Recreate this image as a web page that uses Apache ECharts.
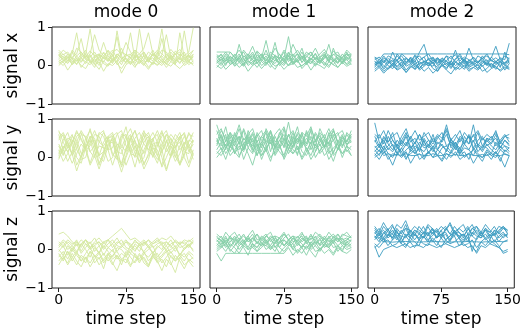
<!DOCTYPE html>
<html>
<head>
<meta charset="utf-8">
<script src="https://cdn.jsdelivr.net/npm/echarts@6/dist/echarts.min.js"></script>
<style>
  html, body { margin: 0; padding: 0; background: #fff; }
  #chart { width: 524px; height: 329px; }
</style>
</head>
<body>
<div id="chart"></div>
<script>
// time steps
const steps = [0,5,10,15,20,25,30,35,40,45,50,55,60,65,70,75,80,85,90,95,100,105,110,115,120,125,130,135,140,145,150]
const modes = ['mode 0', 'mode 1', 'mode 2']
const signals = ['signal x', 'signal y', 'signal z']
const xTicks = [0, 75, 150]
const modeColors = ['#d4e8a0', '#86cfa8', '#3d9cc1']

// signal x
const sigX0 = [
  [0.18,0.25,0.12,0.30,0.85,0.20,0.05,0.22,0.35,0.15,0.10,0.28,0.40,0.18,0.02,0.25,0.30,0.12,0.95,0.22,0.08,0.30,0.18,0.25,0.10,0.35,0.20,0.05,0.28,0.15,0.22],
  [0.05,0.12,0.30,0.18,0.02,0.25,0.40,0.10,-0.05,0.20,0.32,0.15,0.08,0.90,0.25,0.05,0.18,0.35,0.10,0.00,0.22,0.40,0.15,0.05,0.30,0.18,0.02,0.85,0.20,0.10,0.30],
  [0.35,0.20,0.08,0.40,0.25,0.10,0.30,0.95,0.18,0.05,0.25,0.38,0.12,0.20,0.45,0.15,0.02,0.28,0.20,0.35,0.12,0.05,0.30,0.95,0.20,0.10,0.38,0.25,0.08,0.20,0.40],
  [0.10,0.00,0.15,0.05,0.20,-0.05,0.10,0.25,0.05,-0.10,0.12,0.00,0.18,0.05,-0.08,0.10,0.22,0.00,0.08,0.15,-0.05,0.10,0.02,0.18,0.05,-0.02,0.12,0.20,0.00,0.08,0.05],
  [0.25,0.40,0.30,0.15,0.45,0.35,0.20,0.30,0.80,0.40,0.25,0.15,0.35,0.42,0.28,0.60,0.35,0.20,0.30,0.45,0.85,0.30,0.22,0.40,0.35,0.15,0.30,0.42,0.25,0.35,0.98],
  [0.15,0.08,0.22,0.12,0.05,0.18,0.10,0.02,0.20,0.28,0.05,-0.02,0.15,0.25,0.10,0.18,0.05,0.12,0.22,0.08,0.15,0.02,0.20,0.12,0.05,0.25,0.15,0.08,0.18,0.02,0.12],
  [0.30,0.15,0.05,0.22,0.30,0.70,0.18,0.10,0.25,0.12,0.35,0.20,0.05,0.30,0.18,0.25,0.85,0.15,0.05,0.28,0.20,0.12,0.35,0.18,0.02,0.20,0.30,0.15,0.90,0.20,0.28],
  [0.00,0.10,-0.12,0.05,0.15,0.00,-0.08,0.12,0.02,0.10,-0.15,0.05,0.00,0.12,-0.20,0.02,0.10,-0.05,0.15,0.05,-0.10,0.08,0.00,0.12,-0.05,0.10,0.02,-0.08,0.05,0.12,0.00],
  [0.22,0.30,0.18,0.08,0.25,0.35,0.15,0.28,0.10,0.22,0.60,0.25,0.12,0.30,0.20,0.08,0.28,0.40,0.15,0.25,0.10,0.32,0.20,0.70,0.15,0.28,0.12,0.22,0.35,0.10,0.25],
  [0.40,0.28,0.35,0.20,0.12,0.30,0.22,0.38,0.25,0.30,0.18,0.40,0.25,0.10,0.35,0.28,0.20,0.40,0.30,0.15,0.35,0.25,0.40,0.30,0.20,0.42,0.28,0.35,0.15,0.30,0.38],
  [0.10,0.20,0.25,0.02,0.12,0.20,0.30,0.08,0.15,0.00,0.22,0.10,0.28,0.02,0.12,0.20,0.08,0.25,0.15,0.02,0.18,0.28,0.08,0.00,0.15,0.22,0.05,0.18,0.10,0.28,0.08],
  [0.28,0.12,0.20,0.35,0.18,0.08,0.25,0.15,0.05,0.30,0.20,0.12,0.25,0.75,0.15,0.30,0.20,0.05,0.25,0.35,0.15,0.20,0.08,0.28,0.80,0.20,0.10,0.30,0.20,0.25,0.15]
]
const sigX1 = [
  [0.15,0.05,0.20,0.10,0.30,0.12,0.02,0.18,0.25,0.08,0.15,0.05,0.22,0.12,0.30,0.10,0.00,0.18,0.08,0.25,0.15,0.05,0.20,0.10,0.28,0.12,0.02,0.18,0.10,0.22,0.15],
  [0.05,0.18,0.00,0.25,0.10,0.55,0.15,0.05,0.20,0.35,0.10,0.00,0.18,0.60,0.12,0.05,0.25,0.10,0.20,0.45,0.08,0.15,0.30,0.05,0.18,0.55,0.10,0.22,0.05,0.35,0.12],
  [0.25,0.10,0.30,0.15,0.05,0.22,0.35,0.12,0.00,0.28,0.15,0.40,0.10,0.25,0.05,0.20,0.75,0.15,0.30,0.08,0.22,0.35,0.15,0.05,0.28,0.12,0.30,0.18,0.08,0.25,0.30],
  [-0.05,0.08,-0.10,0.02,0.10,-0.05,0.05,-0.15,0.00,0.08,-0.08,0.05,0.12,-0.02,0.05,-0.10,0.02,0.10,-0.05,0.00,0.08,-0.12,0.05,0.00,-0.08,0.10,0.02,-0.05,0.08,-0.02,0.05],
  [0.20,0.30,0.12,0.35,0.22,0.15,0.40,0.25,0.50,0.20,0.30,0.12,0.35,0.25,0.18,0.40,0.22,0.55,0.30,0.15,0.35,0.25,0.45,0.20,0.30,0.15,0.38,0.25,0.20,0.40,0.28],
  [0.10,0.00,0.15,0.05,0.20,0.08,-0.02,0.12,0.05,0.18,0.00,0.10,-0.05,0.15,0.08,0.00,0.20,0.05,0.12,-0.02,0.10,0.18,0.02,0.12,0.05,-0.05,0.15,0.08,0.20,0.02,0.10],
  [0.35,0.35,0.35,0.35,0.20,0.10,0.25,0.15,0.30,0.05,0.22,0.12,0.28,0.18,0.08,0.25,0.15,0.30,0.10,0.20,0.05,0.28,0.15,0.22,0.35,0.12,0.20,0.08,0.30,0.15,0.25],
  [0.12,0.22,0.05,0.15,0.00,0.25,0.10,0.30,0.15,0.05,0.20,0.65,0.15,0.05,0.22,0.10,0.28,0.02,0.15,0.35,0.10,0.05,0.20,0.12,0.25,0.08,0.45,0.15,0.05,0.20,0.10],
  [0.18,0.28,0.10,0.22,0.15,0.30,0.05,0.20,0.35,0.12,0.25,0.18,0.05,0.28,0.15,0.35,0.10,0.22,0.30,0.08,0.25,0.15,0.32,0.10,0.20,0.28,0.15,0.05,0.22,0.30,0.18],
  [0.08,0.15,0.25,0.02,0.12,0.20,0.00,0.25,0.10,0.15,0.30,0.05,0.18,0.22,0.00,0.12,0.35,0.08,0.15,0.25,0.02,0.20,0.08,0.15,0.00,0.22,0.10,0.28,0.12,0.05,0.15],
  [0.28,0.20,0.35,0.18,0.25,0.40,0.22,0.30,0.15,0.38,0.25,0.30,0.20,0.45,0.28,0.15,0.32,0.25,0.40,0.20,0.28,0.35,0.18,0.30,0.42,0.22,0.28,0.35,0.15,0.30,0.25],
  [0.00,-0.08,0.05,0.15,-0.02,0.08,0.20,0.00,0.10,-0.05,0.12,0.25,0.02,-0.10,0.08,0.18,0.00,0.05,0.15,-0.08,0.05,0.12,-0.02,0.20,0.08,0.00,0.12,-0.05,0.10,0.15,0.02]
]
const sigX2 = [
  [0.00,0.10,-0.10,0.05,0.15,-0.05,0.08,-0.12,0.02,0.12,-0.08,0.05,0.00,0.10,-0.15,0.05,0.12,-0.05,0.08,0.00,-0.10,0.10,0.02,-0.08,0.05,0.15,-0.05,0.02,0.10,-0.12,0.05],
  [0.20,0.05,0.25,0.10,0.00,0.30,0.15,0.05,0.22,0.10,0.35,0.55,0.15,0.05,0.20,0.10,0.25,0.00,0.15,0.30,0.10,0.45,0.15,0.05,0.25,0.10,0.20,0.50,0.15,0.05,0.20],
  [-0.15,-0.05,-0.20,-0.08,0.00,-0.12,-0.05,-0.18,-0.02,-0.10,0.00,-0.15,-0.05,-0.20,-0.08,0.00,-0.12,-0.22,-0.05,-0.10,0.02,-0.15,-0.05,-0.12,0.00,-0.18,-0.08,-0.02,-0.15,-0.05,-0.10],
  [0.10,0.00,0.15,0.05,0.35,0.10,0.00,0.18,0.08,0.25,0.02,0.12,0.05,0.20,0.00,0.15,0.05,0.10,0.40,0.05,0.18,0.00,0.12,0.08,0.20,0.02,0.15,0.05,0.12,0.00,0.10],
  [0.05,0.15,0.30,0.30,0.30,0.30,0.30,0.30,0.30,0.30,0.30,0.30,0.30,0.30,0.30,0.30,0.30,0.30,0.30,0.30,0.30,0.30,0.30,0.30,0.30,0.30,0.30,0.30,0.30,0.30,0.28],
  [0.05,-0.05,0.10,0.00,-0.08,0.08,0.15,-0.02,0.05,-0.10,0.10,0.00,0.20,0.05,-0.05,0.12,0.00,0.08,-0.08,0.05,0.15,-0.05,0.02,0.10,-0.02,0.08,0.00,0.12,-0.05,0.35,0.05],
  [-0.05,0.12,0.00,-0.10,0.05,0.15,-0.05,0.08,0.20,0.00,-0.08,0.10,0.05,-0.02,0.18,0.05,-0.10,0.12,0.00,0.08,-0.05,0.15,0.05,-0.08,0.10,0.00,0.05,-0.10,0.10,0.02,-0.05],
  [0.15,0.22,0.08,0.18,0.10,0.25,0.12,0.20,0.05,0.18,0.25,0.10,0.15,0.22,0.05,0.18,0.12,0.25,0.08,0.20,0.15,0.05,0.22,0.10,0.18,0.25,0.12,0.08,0.20,0.15,0.58],
  [0.10,0.05,0.20,0.12,-0.02,0.15,0.25,0.08,0.18,0.05,0.12,0.22,0.00,0.15,0.08,0.20,0.10,0.02,0.18,0.25,0.05,0.12,0.20,0.08,0.15,0.02,0.22,0.10,0.18,0.05,0.12],
  [-0.10,0.00,-0.15,-0.05,0.05,-0.10,0.02,-0.18,-0.05,0.05,-0.12,-0.02,0.08,-0.08,-0.15,0.00,-0.05,0.05,-0.12,-0.02,0.08,-0.10,-0.05,0.02,-0.15,-0.08,0.05,-0.05,-0.12,0.00,-0.08],
  [0.22,0.15,0.08,0.25,0.18,0.12,0.30,0.20,0.10,0.28,0.15,0.22,0.30,0.12,0.20,0.08,0.25,0.18,0.28,0.12,0.22,0.15,0.05,0.25,0.18,0.30,0.12,0.20,0.10,0.25,0.18],
  [0.02,0.08,-0.05,0.12,0.05,-0.02,0.10,0.02,0.15,-0.05,0.05,0.10,-0.02,0.08,0.15,0.00,0.05,-0.08,0.10,0.02,0.12,-0.02,0.08,0.00,0.12,0.05,-0.05,0.10,0.00,0.08,0.15]
]

// signal y
const sigY0 = [
  [0.10,0.45,0.65,0.30,-0.20,0.05,0.50,0.70,0.35,-0.15,0.10,0.55,0.65,0.25,-0.25,0.05,0.45,0.70,0.30,-0.20,0.10,0.50,0.60,0.20,-0.30,0.05,0.45,0.65,0.30,-0.15,0.20],
  [0.60,0.20,-0.10,0.15,0.55,0.65,0.25,-0.15,0.20,0.60,0.70,0.20,-0.20,0.15,0.55,0.60,0.15,-0.25,0.20,0.65,0.55,0.10,-0.15,0.25,0.60,0.50,0.05,-0.20,0.30,0.65,0.40],
  [0.30,0.05,0.40,0.60,0.20,0.00,0.35,0.75,0.30,0.05,0.40,0.55,0.10,-0.05,0.45,0.80,0.25,0.00,0.35,0.60,0.15,0.05,0.45,0.70,0.25,0.00,0.40,0.55,0.15,0.10,0.45],
  [-0.05,0.25,0.40,0.10,-0.35,0.00,0.30,0.45,0.05,-0.30,0.05,0.35,0.40,0.00,-0.38,0.00,0.30,0.45,0.05,-0.30,-0.05,0.35,0.40,0.00,-0.35,0.05,0.30,0.40,0.00,-0.25,0.10],
  [0.45,0.60,0.30,0.10,0.40,0.70,0.50,0.15,0.30,0.65,0.55,0.20,0.25,0.60,0.70,0.30,0.15,0.50,0.65,0.35,0.20,0.45,0.70,0.40,0.15,0.35,0.60,0.45,0.20,0.40,0.65],
  [0.20,-0.10,0.10,0.45,0.35,-0.05,0.00,0.40,0.45,0.00,-0.10,0.30,0.50,0.05,-0.15,0.25,0.50,0.10,-0.10,0.20,0.45,0.15,-0.05,0.15,0.45,0.20,-0.10,0.10,0.40,0.25,-0.05],
  [0.70,0.40,0.15,0.35,0.65,0.50,0.20,0.30,0.60,0.55,0.25,0.20,0.55,0.65,0.30,0.15,0.50,0.70,0.35,0.10,0.45,0.65,0.40,0.15,0.40,0.60,0.45,0.20,0.35,0.60,0.55],
  [0.05,0.30,0.15,-0.15,0.10,0.35,0.20,-0.20,0.05,0.30,0.25,-0.10,0.00,0.35,0.20,-0.20,0.10,0.30,0.10,-0.15,0.05,0.25,0.20,-0.25,0.00,0.30,0.15,-0.15,0.10,0.30,0.05],
  [0.50,0.65,0.40,0.05,0.25,0.60,0.55,0.15,0.00,0.40,0.65,0.45,0.05,0.20,0.60,0.55,0.10,0.05,0.45,0.70,0.35,0.00,0.30,0.65,0.45,0.05,0.20,0.55,0.60,0.15,0.35],
  [0.35,0.10,0.25,0.55,0.45,0.10,0.20,0.55,0.50,0.05,0.15,0.50,0.55,0.15,0.10,0.45,0.60,0.20,0.05,0.40,0.55,0.25,0.05,0.35,0.60,0.30,0.00,0.30,0.55,0.35,0.10],
  [0.00,0.20,0.50,0.45,0.00,-0.15,0.25,0.55,0.20,-0.20,0.15,0.45,0.45,0.00,-0.20,0.20,0.55,0.35,-0.15,0.00,0.40,0.50,0.05,-0.20,0.25,0.50,0.30,-0.20,0.05,0.45,0.40],
  [0.65,0.55,0.25,0.40,0.70,0.45,0.25,0.45,0.70,0.40,0.30,0.50,0.60,0.35,0.25,0.55,0.75,0.40,0.25,0.50,0.65,0.30,0.30,0.55,0.70,0.35,0.25,0.50,0.65,0.30,0.45]
]
const sigY1 = [
  [0.30,0.60,0.20,0.55,0.10,0.45,0.70,0.25,0.50,0.05,0.40,0.65,0.15,0.55,0.30,0.75,0.20,0.45,0.05,0.60,0.35,0.70,0.15,0.50,0.25,0.65,0.10,0.45,0.30,0.60,0.40],
  [0.70,0.40,0.80,0.30,0.65,0.45,0.20,0.70,0.40,0.60,0.25,0.75,0.50,0.30,0.65,0.40,0.92,0.35,0.60,0.25,0.70,0.45,0.30,0.75,0.50,0.35,0.70,0.40,0.60,0.30,0.55],
  [0.10,0.25,-0.05,0.30,0.15,0.00,0.35,0.10,-0.20,0.20,0.05,0.30,0.00,0.15,0.35,-0.05,0.20,0.10,0.30,0.00,0.25,-0.05,0.15,0.35,0.05,0.20,-0.10,0.25,0.10,0.30,0.05],
  [0.50,0.20,0.45,0.65,0.30,0.55,0.20,0.40,0.65,0.35,0.15,0.50,0.70,0.25,0.45,0.60,0.20,0.55,0.35,0.65,0.15,0.40,0.60,0.30,0.50,0.20,0.55,0.65,0.30,0.45,0.60],
  [0.85,0.50,0.30,0.60,0.40,0.75,0.35,0.55,0.20,0.65,0.45,0.30,0.70,0.40,0.55,0.25,0.60,0.45,0.80,0.30,0.50,0.35,0.65,0.45,0.25,0.60,0.75,0.35,0.55,0.40,0.70],
  [0.20,0.40,0.10,0.30,0.50,0.05,0.25,0.45,0.15,0.35,-0.05,0.25,0.40,0.10,0.30,0.05,0.45,0.20,0.10,0.40,0.25,0.05,0.35,0.15,0.45,0.10,0.25,0.35,0.00,0.30,0.20],
  [0.40,0.70,0.50,0.25,0.60,0.35,0.75,0.45,0.30,0.55,0.70,0.35,0.50,0.25,0.60,0.80,0.40,0.30,0.65,0.50,0.35,0.75,0.45,0.60,0.30,0.50,0.70,0.40,0.25,0.65,0.50],
  [0.00,0.15,0.35,0.05,0.20,0.40,-0.05,0.25,0.10,0.45,0.05,0.20,-0.10,0.30,0.15,0.00,0.35,0.10,0.25,-0.05,0.15,0.40,0.00,0.20,0.30,-0.05,0.15,0.35,0.10,0.20,0.05],
  [0.45,0.30,0.60,0.15,0.40,0.55,0.25,0.60,0.35,0.20,0.55,0.40,0.65,0.20,0.45,0.30,0.60,0.25,0.50,0.35,0.65,0.20,0.45,0.55,0.30,0.40,0.60,0.20,0.50,0.35,0.45],
  [0.15,0.05,0.25,0.40,0.10,0.30,0.15,0.50,0.25,0.05,0.35,0.20,0.45,0.05,0.25,0.40,0.10,0.30,0.50,0.15,0.05,0.30,0.45,0.10,0.25,0.40,0.05,0.20,0.45,0.15,0.30],
  [0.60,0.75,0.40,0.65,0.50,0.85,0.45,0.60,0.75,0.40,0.55,0.70,0.35,0.60,0.75,0.45,0.55,0.70,0.40,0.65,0.55,0.80,0.40,0.65,0.50,0.75,0.45,0.60,0.70,0.40,0.60],
  [0.35,0.55,0.25,0.45,0.30,0.20,0.50,0.35,0.60,0.25,0.40,0.15,0.55,0.35,0.25,0.50,0.30,0.65,0.20,0.45,0.30,0.55,0.25,0.40,0.60,0.30,0.45,0.20,0.55,0.35,0.40]
]
const sigY2 = [
  [0.90,0.40,0.20,0.55,0.30,0.10,0.45,0.65,0.25,0.40,0.15,0.50,0.30,0.60,0.20,0.45,0.70,0.25,0.40,0.15,0.55,0.35,0.85,0.30,0.20,0.50,0.35,0.60,0.25,0.45,0.30],
  [0.20,0.05,0.30,0.10,0.00,0.25,0.15,-0.05,0.20,0.10,0.30,0.00,0.15,0.25,0.05,-0.05,0.20,0.10,0.30,0.05,0.15,-0.05,0.25,0.10,0.00,0.20,0.05,0.15,-0.10,0.20,0.10],
  [0.40,0.60,0.35,0.70,0.45,0.30,0.55,0.75,0.40,0.50,0.30,0.65,0.45,0.35,0.55,0.40,0.60,0.30,0.50,0.70,0.35,0.55,0.40,0.65,0.30,0.50,0.45,0.70,0.35,0.55,0.50],
  [0.10,-0.05,0.15,0.05,-0.20,0.10,0.00,0.15,-0.15,0.05,0.10,-0.05,0.15,0.00,0.05,-0.10,0.10,0.00,0.15,-0.05,0.05,0.10,-0.15,0.05,0.00,0.10,-0.05,0.15,0.00,-0.25,0.05],
  [0.30,0.15,0.45,0.20,0.35,0.10,0.25,0.40,0.15,0.30,0.20,0.45,0.10,0.30,0.20,0.35,0.15,0.50,0.25,0.10,0.35,0.20,0.45,0.15,0.30,0.25,0.10,0.40,0.20,0.30,0.15],
  [0.55,0.30,0.50,0.40,0.65,0.25,0.45,0.30,0.55,0.35,0.60,0.40,0.25,0.50,0.35,0.45,0.85,0.40,0.30,0.55,0.45,0.35,0.60,0.30,0.50,0.40,0.55,0.30,0.45,0.60,0.40],
  [0.05,0.20,0.05,0.10,0.05,0.08,0.05,0.10,0.05,0.05,0.08,0.05,0.05,0.10,0.05,0.05,0.10,0.05,0.08,0.05,0.05,0.10,0.05,0.05,0.08,0.05,0.10,0.05,0.05,0.08,0.05],
  [0.25,0.35,0.20,0.30,0.45,0.25,0.15,0.35,0.50,0.20,0.40,0.25,0.30,0.15,0.40,0.30,0.20,0.45,0.35,0.25,0.40,0.55,0.20,0.35,0.25,0.45,0.30,0.20,0.40,0.30,0.25],
  [0.45,0.25,0.55,0.35,0.20,0.45,0.30,0.55,0.20,0.40,0.60,0.30,0.45,0.25,0.50,0.65,0.30,0.40,0.20,0.50,0.35,0.60,0.25,0.45,0.55,0.30,0.40,0.50,0.25,0.45,0.35],
  [0.15,0.30,0.10,0.25,0.15,0.35,0.05,0.20,0.30,0.10,0.25,0.15,0.35,0.20,0.05,0.25,0.30,0.15,0.40,0.10,0.25,0.20,0.05,0.30,0.15,0.35,0.20,0.10,0.30,0.15,0.25],
  [0.60,0.50,0.70,0.40,0.55,0.65,0.35,0.60,0.50,0.70,0.45,0.55,0.65,0.40,0.60,0.50,0.75,0.45,0.60,0.40,0.65,0.50,0.55,0.70,0.45,0.60,0.50,0.65,0.40,0.55,0.60],
  [0.00,0.10,0.20,-0.05,0.10,0.05,0.25,0.00,0.10,0.20,-0.05,0.05,0.15,0.00,0.20,0.10,-0.05,0.15,0.05,0.25,0.00,0.10,0.20,0.05,-0.10,0.15,0.05,0.00,0.20,0.10,0.05]
]

// signal z
const sigZ0 = [
  [0.40,0.45,0.35,0.20,0.10,0.25,0.15,0.05,0.20,0.30,0.15,0.25,0.35,0.45,0.55,0.40,0.25,0.30,0.20,0.10,0.25,0.15,0.20,0.30,0.25,0.35,0.20,0.15,0.25,0.20,0.30],
  [0.15,0.05,0.20,0.10,-0.05,0.15,0.25,0.05,0.10,0.20,0.00,0.15,0.25,0.10,0.05,0.20,0.15,0.00,0.10,0.20,0.05,0.15,0.25,0.10,0.00,0.15,0.20,0.05,0.10,0.25,0.15],
  [-0.40,-0.20,-0.35,-0.10,-0.30,-0.45,-0.20,-0.35,-0.15,-0.40,-0.25,-0.10,-0.35,-0.55,-0.25,-0.15,-0.40,-0.30,-0.10,-0.35,-0.45,-0.20,-0.30,-0.55,-0.25,-0.40,-0.15,-0.30,-0.50,-0.25,-0.35],
  [0.00,-0.15,0.10,-0.05,0.15,-0.10,0.05,0.20,-0.05,0.10,-0.15,0.05,0.15,-0.05,0.10,0.00,-0.10,0.15,0.05,-0.05,0.10,-0.10,0.05,0.15,-0.05,0.00,0.10,-0.15,0.05,0.10,0.00],
  [-0.20,-0.05,-0.25,0.00,-0.15,-0.30,-0.10,0.05,-0.20,-0.05,-0.30,-0.15,0.00,-0.25,-0.10,-0.20,0.00,-0.15,-0.35,-0.10,-0.20,-0.05,-0.25,-0.15,0.00,-0.20,-0.30,-0.10,-0.20,-0.05,-0.15],
  [0.20,0.10,0.25,0.15,0.20,0.05,0.25,0.15,0.30,0.10,0.20,0.25,0.05,0.20,0.15,0.25,0.10,0.20,0.15,0.25,0.10,0.20,0.30,0.15,0.20,0.05,0.25,0.15,0.20,0.10,0.25],
  [-0.10,-0.30,-0.05,-0.20,-0.40,-0.15,-0.25,-0.05,-0.35,-0.20,-0.50,-0.10,-0.25,-0.15,-0.40,-0.05,-0.20,-0.35,-0.15,-0.25,-0.45,-0.10,-0.30,-0.20,-0.05,-0.35,-0.60,-0.20,-0.10,-0.30,-0.45],
  [0.05,0.20,0.00,0.10,0.25,-0.05,0.15,0.00,0.10,-0.10,0.20,0.05,-0.05,0.15,0.25,0.05,0.00,0.10,-0.05,0.20,0.05,-0.10,0.10,0.00,0.20,0.10,-0.05,0.15,0.00,0.10,0.20],
  [-0.05,0.10,-0.15,0.05,-0.10,0.15,0.00,-0.20,0.05,-0.10,0.10,-0.05,-0.20,0.05,0.00,-0.15,0.10,-0.05,0.15,-0.10,0.00,0.10,-0.20,-0.05,0.10,-0.10,0.05,-0.15,0.00,0.15,-0.05],
  [-0.30,-0.15,-0.40,-0.20,-0.05,-0.30,-0.20,-0.45,-0.25,-0.10,-0.35,-0.20,-0.40,-0.15,-0.30,-0.25,-0.45,-0.10,-0.30,-0.20,-0.40,-0.15,-0.35,-0.25,-0.45,-0.15,-0.30,-0.20,-0.40,-0.30,-0.20],
  [0.10,0.25,0.15,0.00,0.20,0.10,0.25,0.05,0.15,0.20,0.05,0.25,0.15,0.30,0.10,0.20,0.05,0.25,0.10,0.15,0.25,0.05,0.15,0.20,0.10,0.25,0.05,0.20,0.15,0.05,0.20],
  [-0.15,-0.25,-0.05,-0.30,-0.10,-0.20,-0.35,-0.05,-0.15,-0.25,-0.10,-0.30,-0.15,-0.05,-0.25,-0.35,-0.10,-0.20,-0.25,-0.05,-0.30,-0.15,-0.10,-0.35,-0.20,-0.05,-0.25,-0.15,-0.30,-0.10,-0.25]
]
const sigZ1 = [
  [0.20,0.35,0.15,0.30,0.10,0.25,0.40,0.20,0.30,0.15,0.35,0.25,0.10,0.30,0.20,0.40,0.25,0.15,0.35,0.20,0.30,0.10,0.25,0.35,0.20,0.30,0.15,0.40,0.25,0.30,0.20],
  [0.00,0.10,-0.05,0.15,0.05,-0.10,0.10,0.00,0.15,-0.05,0.05,0.20,0.00,0.10,-0.10,0.05,0.15,0.00,-0.05,0.10,0.05,0.15,-0.05,0.00,0.10,0.05,-0.10,0.10,0.00,0.15,0.05],
  [0.35,0.20,0.45,0.30,0.25,0.40,0.20,0.35,0.50,0.25,0.30,0.40,0.20,0.35,0.30,0.45,0.25,0.35,0.20,0.40,0.30,0.25,0.45,0.35,0.20,0.30,0.40,0.25,0.35,0.45,0.30],
  [-0.10,-0.30,-0.10,-0.10,-0.10,-0.10,-0.10,-0.10,-0.10,-0.10,-0.10,-0.10,-0.10,-0.10,-0.10,-0.10,0.05,-0.15,0.00,-0.10,0.10,-0.05,-0.20,0.05,-0.10,0.00,-0.15,0.05,-0.05,-0.10,0.00],
  [0.15,0.05,0.25,0.10,0.20,0.00,0.15,0.30,0.05,0.20,0.10,0.25,0.05,0.15,0.30,0.10,0.20,0.05,0.25,0.15,0.00,0.20,0.10,0.30,0.05,0.15,0.25,0.10,0.20,0.05,0.15],
  [0.25,0.10,0.30,0.20,0.35,0.15,0.25,0.05,0.30,0.20,0.10,0.35,0.25,0.15,0.30,0.10,0.25,0.35,0.15,0.30,0.20,0.40,0.15,0.25,0.10,0.35,0.20,0.30,0.15,0.25,0.35],
  [0.05,0.15,0.20,-0.05,0.10,0.25,0.05,-0.15,0.15,0.05,0.20,0.00,0.10,-0.05,0.20,0.10,0.25,0.00,0.15,0.05,-0.15,0.10,0.20,0.00,0.15,0.25,0.05,0.10,-0.05,0.20,0.10],
  [0.30,0.25,0.10,0.35,0.20,0.30,0.15,0.25,0.40,0.15,0.30,0.20,0.35,0.25,0.15,0.30,0.40,0.20,0.25,0.35,0.15,0.30,0.25,0.10,0.35,0.20,0.30,0.40,0.20,0.25,0.35],
  [0.10,0.25,0.05,0.20,0.30,0.10,0.20,0.35,0.15,0.05,0.25,0.15,0.30,0.05,0.20,0.25,0.10,0.30,0.20,0.05,0.25,0.15,0.35,0.10,0.20,0.05,0.25,0.30,0.10,0.20,0.25],
  [0.25,0.15,0.35,0.05,0.25,0.20,0.10,0.30,0.20,0.40,0.15,0.10,0.30,0.35,0.05,0.25,0.15,0.30,0.10,0.25,0.35,0.05,0.20,0.15,0.30,0.10,0.35,0.20,0.30,0.10,0.25],
  [-0.05,0.05,0.15,0.00,-0.10,0.10,0.20,0.00,0.05,-0.05,0.15,0.10,0.00,0.20,0.05,-0.05,0.10,0.15,-0.10,0.05,0.20,0.00,0.10,-0.05,0.15,0.05,0.20,-0.05,0.10,0.00,0.05],
  [0.40,0.30,0.20,0.35,0.45,0.25,0.35,0.20,0.30,0.40,0.25,0.35,0.45,0.20,0.30,0.40,0.25,0.35,0.30,0.45,0.20,0.35,0.30,0.40,0.25,0.45,0.30,0.20,0.40,0.35,0.30]
]
const sigZ2 = [
  [0.50,0.35,0.60,0.45,0.30,0.55,0.40,0.65,0.35,0.50,0.45,0.30,0.60,0.40,0.55,0.35,0.50,0.65,0.40,0.45,0.30,0.55,0.40,0.60,0.35,0.50,0.45,0.60,0.40,0.55,0.45],
  [0.25,0.40,0.20,0.35,0.50,0.30,0.15,0.40,0.30,0.45,0.25,0.35,0.20,0.45,0.30,0.40,0.25,0.35,0.50,0.30,0.20,0.40,0.35,0.25,0.45,0.30,0.40,0.20,0.35,0.45,0.30],
  [0.10,-0.20,0.00,0.05,0.10,0.05,0.10,0.15,0.05,0.10,0.10,0.05,0.15,0.10,0.05,0.10,0.15,0.10,0.05,0.10,0.15,0.05,0.10,-0.10,0.10,0.05,0.15,0.10,0.05,-0.05,0.00],
  [0.60,0.45,0.70,0.50,0.40,0.65,0.55,0.75,0.45,0.60,0.50,0.40,0.65,0.55,0.45,0.60,0.50,0.70,0.45,0.55,0.65,0.40,0.55,0.60,0.45,0.65,0.50,0.40,0.60,0.55,0.50],
  [0.35,0.28,0.20,0.20,0.19,0.20,0.20,0.21,0.20,0.20,0.19,0.20,0.20,0.20,0.21,0.20,0.20,0.19,0.20,0.20,0.20,0.21,0.20,0.20,0.19,0.20,0.20,0.20,0.21,0.20,0.22],
  [0.35,0.20,0.45,0.30,0.40,0.25,0.50,0.35,0.20,0.40,0.30,0.45,0.25,0.35,0.50,0.30,0.40,0.20,0.45,0.35,0.25,0.40,-0.05,0.30,0.45,0.25,0.35,0.40,0.20,0.35,0.40],
  [0.40,0.55,0.30,0.50,0.65,0.35,0.45,0.55,0.30,0.50,0.40,0.60,0.35,0.50,0.45,0.30,0.55,0.40,0.60,0.45,0.35,0.50,0.65,0.40,0.30,0.55,0.45,0.35,0.50,0.60,0.40],
  [0.05,0.15,0.30,0.10,0.25,0.35,0.15,0.05,0.30,0.20,0.10,0.35,0.20,0.25,0.10,0.30,0.15,0.25,0.35,0.10,0.20,0.30,0.05,-0.05,0.20,0.30,0.15,0.25,0.10,-0.10,-0.05],
  [0.30,0.45,0.25,0.40,0.30,0.50,0.20,0.35,0.45,0.25,0.40,0.30,0.45,0.20,0.35,0.50,0.25,0.35,0.45,0.30,0.40,0.20,0.45,0.35,0.30,0.40,0.25,0.50,0.30,0.40,0.35],
  [0.55,0.40,0.50,0.35,0.60,0.45,0.30,0.55,0.50,0.35,0.60,0.45,0.40,0.55,0.30,0.50,0.60,0.40,0.35,0.55,0.45,0.60,0.35,0.50,0.40,0.55,0.35,0.50,0.45,0.60,0.50],
  [0.15,0.05,0.20,0.25,0.10,0.15,0.30,0.10,0.20,0.05,0.25,0.15,0.10,0.30,0.20,0.05,0.25,0.15,0.20,0.30,0.10,0.15,0.25,0.05,0.20,0.10,0.25,0.15,0.05,0.20,0.25],
  [0.45,0.30,0.40,0.55,0.25,0.45,0.35,0.30,0.50,0.40,0.25,0.45,0.35,0.55,0.30,0.40,0.45,0.25,0.50,0.35,0.40,0.30,0.55,0.45,0.35,0.50,0.30,0.40,0.45,0.30,0.40]
]

const panels = [
  [sigX0, sigX1, sigX2],
  [sigY0, sigY1, sigY2],
  [sigZ0, sigZ1, sigZ2]
]

const colLeft = [52, 210, 368]
const rowTop = [27, 119, 211]
const panelW = 148
const panelH = 77
const font = 'DejaVu Sans'

const chart = echarts.init(document.getElementById('chart'), null, { renderer: 'canvas' })

const grids = []
const xAxes = []
const yAxes = []
const series = []
const graphics = []

const minusFmt = v => (v < 0 ? '\u2212' + Math.abs(v) : String(v))

panels.forEach((row, r) => {
  row.forEach((lines, c) => {
    const idx = grids.length
    grids.push({
      left: colLeft[c], top: rowTop[r], width: panelW, height: panelH,
      show: true, borderColor: '#222', borderWidth: 1, backgroundColor: 'transparent'
    })
    xAxes.push({
      type: 'value', gridIndex: idx, min: -7.5, max: 157.5,
      axisLine: { show: false, onZero: false },
      axisTick: { show: r === 2, inside: false, length: 4, lineStyle: { color: '#222' }, customValues: xTicks },
      axisLabel: {
        show: r === 2, margin: 5, color: '#000', fontSize: 14, fontFamily: font,
        customValues: xTicks
      },
      splitLine: { show: false },
      name: r === 2 ? 'time step' : '',
      nameLocation: 'middle', nameGap: 23,
      nameTextStyle: { fontSize: 17, color: '#000', fontFamily: font }
    })
    yAxes.push({
      type: 'value', gridIndex: idx, min: -1, max: 1, interval: 1,
      axisLine: { show: false, onZero: false },
      axisTick: { show: c === 0, inside: false, length: 4, lineStyle: { color: '#222' } },
      axisLabel: { show: c === 0, margin: 6, color: '#000', fontSize: 14, fontFamily: font, formatter: minusFmt },
      splitLine: { show: false },
      name: c === 0 ? signals[r] : '',
      nameLocation: 'middle', nameGap: 27, nameRotate: 90,
      nameTextStyle: { fontSize: 17, color: '#000', fontFamily: font }
    })
    lines.forEach(vals => {
      series.push({
        type: 'line', xAxisIndex: idx, yAxisIndex: idx,
        data: vals.map((v, i) => [steps[i], v]),
        symbol: 'none', silent: true,
        lineStyle: { color: modeColors[c], width: 1, opacity: 0.9 }
      })
    })
  })
})

modes.forEach((m, c) => {
  graphics.push({
    type: 'text', x: colLeft[c] + panelW / 2, y: 13,
    style: { text: m, font: '17px "DejaVu Sans"', fill: '#000', textAlign: 'center', textVerticalAlign: 'middle' }
  })
})

chart.setOption({
  animation: false,
  grid: grids,
  xAxis: xAxes,
  yAxis: yAxes,
  series,
  graphic: graphics
})
</script>
</body>
</html>
